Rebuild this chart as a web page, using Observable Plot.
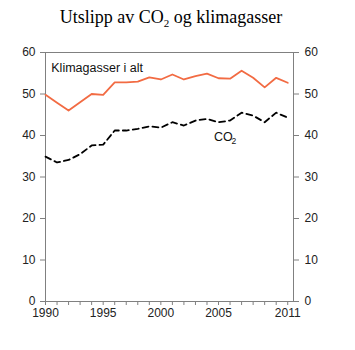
<!DOCTYPE html>
<html><head><meta charset="utf-8">
<script src="https://cdn.jsdelivr.net/npm/d3@7"></script>
<script src="https://cdn.jsdelivr.net/npm/@observablehq/plot@0.6"></script>
<style>
body{margin:0;background:#fff;}
#wrap{position:relative;width:355px;height:350px;}
#title{position:absolute;left:0;top:7px;width:342px;text-align:center;font-family:"Liberation Serif","Times New Roman",serif;font-size:18px;color:#000;z-index:2;}
#title sub{font-size:11px;vertical-align:-4px;line-height:0;}
#chart{position:absolute;left:0;top:0;z-index:1;}
</style></head>
<body><div id="wrap"><div id="chart"></div><div id="title">Utslipp av CO<sub>2</sub> og klimagasser</div></div>
<script>
const years = [1990,1991,1992,1993,1994,1995,1996,1997,1998,1999,2000,2001,2002,2003,2004,2005,2006,2007,2008,2009,2010,2011];
const klimagasser = [49.8,47.9,46.0,48.0,50.0,49.8,52.8,52.8,53.0,54.0,53.5,54.7,53.5,54.3,54.9,53.8,53.7,55.6,53.9,51.6,53.9,52.7];
const co2 = [34.9,33.5,34.1,35.5,37.6,37.8,41.2,41.2,41.6,42.2,41.9,43.2,42.4,43.6,44.0,43.2,43.6,45.5,44.8,43.2,45.5,44.3];
const yTicks = [0,10,20,30,40,50,60];
const xLabels = [1990,1995,2000,2005,2011];

const rowsK = years.map((y,i)=>({year:y, value:klimagasser[i]}));
const rowsC = years.map((y,i)=>({year:y, value:co2[i]}));

const axisColor = "#808080";
const font = "Liberation Sans, Arial, sans-serif";

const chart = Plot.plot({
  width: 355,
  height: 350,
  marginTop: 52,
  marginBottom: 49,
  marginLeft: 45,
  marginRight: 62,
  style: {fontFamily: font, fontSize: "12px", color: "#222", background: "transparent"},
  x: {domain: [1990, 2011.5]},
  y: {domain: [0, 60]},
  marks: [
    Plot.frame({stroke: axisColor}),
    Plot.axisY({ticks: yTicks, anchor: "left", tickSize: 5, tickPadding: 5, stroke: axisColor, label: null, fontSize: 12}),
    Plot.axisY({ticks: yTicks, anchor: "right", tickSize: 5, tickPadding: 6, stroke: axisColor, label: null, fontSize: 12}),
    Plot.axisX({ticks: years, tickSize: 4, tickPadding: 3, stroke: axisColor, label: null, fontSize: 12,
      tickFormat: d => xLabels.includes(d) ? String(d) : ""}),
    Plot.line(rowsK, {x: "year", y: "value", stroke: "#f26b43", strokeWidth: 1.8}),
    Plot.line(rowsC, {x: "year", y: "value", stroke: "#000", strokeWidth: 1.8, strokeDasharray: "6,4"}),
    Plot.text(["Klimagasser i alt"], {x: 1990.5, y: 56.2, text: d => d, textAnchor: "start", fontSize: 12.5, fill: "#111"}),
    Plot.text(["CO"], {x: 2004.6, y: 39.6, text: d => d, textAnchor: "start", fontSize: 12.5, fill: "#111"}),
    Plot.text(["2"], {x: 2004.6, y: 39.6, dx: 17.5, dy: 4, text: d => d, textAnchor: "start", fontSize: 8.5, fill: "#111"})
  ]
});
document.getElementById("chart").appendChild(chart);
</script></body></html>
